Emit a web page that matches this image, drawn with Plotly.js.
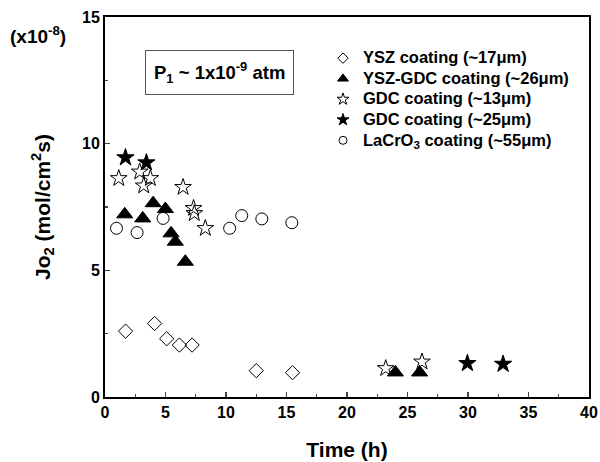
<!DOCTYPE html>
<html>
<head>
<meta charset="utf-8">
<script src="https://cdn.plot.ly/plotly-3.0.1.min.js"></script>
<style>html,body{margin:0;padding:0;background:#fff;}#chart{width:600px;height:462px;}</style>
</head>
<body>
<div id="chart"></div>
<script>
// YSZ coating (~17 µm)
const yszX = [1.7, 4.1, 5.1, 6.15, 7.2, 12.5, 15.5];
const yszY = [2.6, 2.9, 2.3, 2.05, 2.05, 1.04, 0.96];
// YSZ-GDC coating (~26 µm)
const ysgX = [1.63, 3.12, 3.98, 4.99, 5.46, 5.81, 6.64, 24.0, 26.0];
const ysgY = [7.21, 7.05, 7.65, 7.42, 6.46, 6.13, 5.34, 0.97, 0.97];
// GDC coating (~13 µm)
const gdc13X = [1.14, 2.87, 3.75, 3.2, 6.45, 7.32, 7.38, 8.29, 23.2, 26.2];
const gdc13Y = [8.63, 8.89, 8.63, 8.34, 8.28, 7.45, 7.25, 6.66, 1.13, 1.39];
// GDC coating (~25 µm)
const gdc25X = [1.69, 3.42, 29.95, 32.9];
const gdc25Y = [9.45, 9.25, 1.33, 1.30];
// LaCrO3 coating (~55 µm)
const lcoX = [0.95, 2.65, 4.8, 10.3, 11.3, 12.96, 15.44];
const lcoY = [6.66, 6.49, 7.05, 6.66, 7.16, 7.03, 6.88];

const names = ['YSZ coating (~17μm)', 'YSZ-GDC coating (~26μm)', 'GDC coating (~13μm)',
               'GDC coating (~25μm)', 'LaCrO<sub>3</sub> coating (~55μm)'];
const symbols = ['diamond-open', 'triangle-up', 'star-open', 'star', 'circle-open'];
const sizes = [11, 14, 12.5, 13, 12];
const legendSizes = [8, 9.5, 9, 9, 8];
const xs = [yszX, ysgX, gdc13X, gdc25X, lcoX];
const ys = [yszY, ysgY, gdc13Y, gdc25Y, lcoY];

const data = [];
for (let i = 0; i < names.length; i++) {
  data.push({x: xs[i], y: ys[i], name: names[i], type: 'scatter', mode: 'markers', cliponaxis: false,
    showlegend: false,
    marker: {symbol: symbols[i], size: sizes[i], color: '#000', line: {color: '#000', width: 1}}});
}
for (let i = 0; i < names.length; i++) {
  data.push({x: [null], y: [null], name: '<span style="font-size:16.5px">' + names[i] + '</span>',
    type: 'scatter', mode: 'markers', showlegend: true,
    marker: {symbol: symbols[i], size: legendSizes[i], color: '#000', line: {color: '#000', width: 1}}});
}
const F = 'Liberation Sans, Arial, sans-serif';
const layout = {
  width: 600, height: 462,
  margin: {l: 105, r: 11, t: 17, b: 65},
  paper_bgcolor: '#fff', plot_bgcolor: '#fff',
  font: {family: F, color: '#000', size: 16, weight: 'bold'},
  showlegend: true,
  legend: {x: (323 - 105) / 484, y: 0.932, xanchor: 'left', yanchor: 'top', bgcolor: 'rgba(0,0,0,0)',
           font: {family: F, size: 13.5, weight: 'bold'}, itemsizing: 'trace', tracegroupgap: 0},
  xaxis: {range: [0, 40], dtick: 5, tick0: 0, ticks: 'inside', ticklen: 5, tickwidth: 1.5,
          showline: true, linewidth: 2, linecolor: '#000', mirror: true, showgrid: false, zeroline: false,
          minor: {dtick: 2.5, ticks: 'inside', ticklen: 3, tickwidth: 1.2, showgrid: false},
          tickfont: {family: F, size: 16, weight: 'bold'},
          title: {text: 'Time (h)', font: {family: F, size: 21, weight: 'bold'}, standoff: 22}},
  yaxis: {range: [0, 15], dtick: 5, tick0: 0, ticks: 'inside', ticklen: 5, tickwidth: 1.5,
          showline: true, linewidth: 2, linecolor: '#000', mirror: true, showgrid: false, zeroline: false,
          minor: {dtick: 2.5, ticks: 'inside', ticklen: 3, tickwidth: 1.2, showgrid: false},
          tickfont: {family: F, size: 16, weight: 'bold'},
          title: {text: 'Jo<sub>2</sub> (mol/cm<sup>2</sup>s)', font: {family: F, size: 21, weight: 'bold'}, standoff: 26}},
  annotations: [
    {xref: 'paper', yref: 'paper', x: (219 - 105) / 484, y: (397 - 72) / 380, xanchor: 'center', yanchor: 'middle',
     text: 'P<sub>1</sub> ~ 1x10<sup>-9</sup> atm', showarrow: false,
     font: {family: F, size: 18.5, weight: 'bold'}, bordercolor: '#555', borderwidth: 1, borderpad: 8, bgcolor: '#fff'},
    {xref: 'paper', yref: 'paper', x: (38 - 105) / 484, y: (397 - 35) / 380, xanchor: 'center', yanchor: 'middle',
     text: '(x10<sup>-8</sup>)', showarrow: false, font: {family: F, size: 19, weight: 'bold'}}
  ]
};
Plotly.newPlot('chart', data, layout, {displayModeBar: false, staticPlot: true});
</script>
</body>
</html>
